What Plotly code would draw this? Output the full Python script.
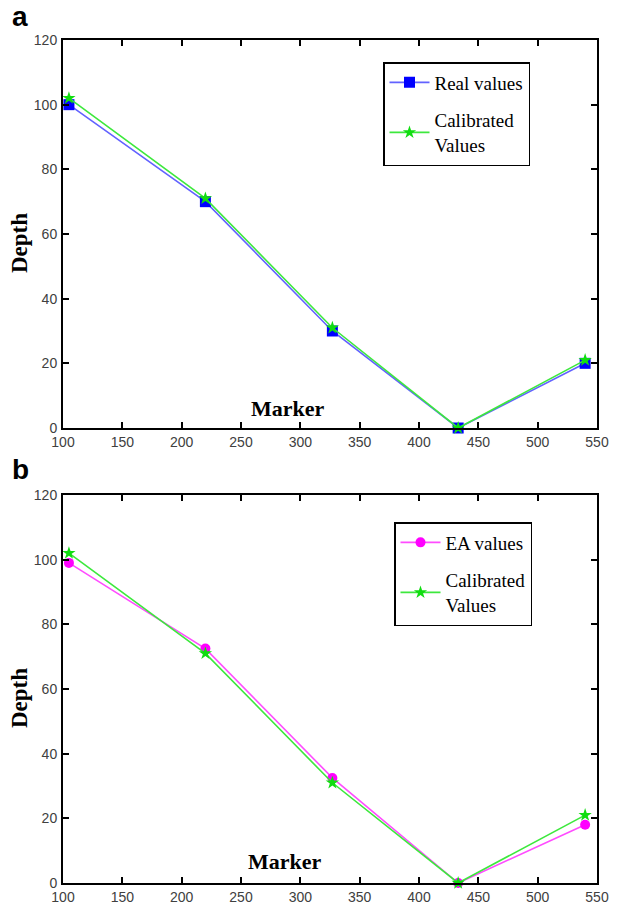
import plotly.graph_objects as go
from plotly.subplots import make_subplots

markers_x = [105, 220, 327, 433, 540]
real_values = [100, 70, 30, 0, 20]
calibrated_values = [102, 71, 31, 0, 21]
ea_values = [99, 72.5, 32.5, 0, 18]

x_ticks = [100, 150, 200, 250, 300, 350, 400, 450, 500, 550]
y_ticks = [0, 20, 40, 60, 80, 100, 120]

W, H = 618, 907
ML, MR, MT, MB = 63, 21, 40, 24
PW = W - ML - MR
PH = H - MT - MB

def py(pix):
    return (H - MB - pix) / PH

def px(pix):
    return (pix - ML) / PW

fig = make_subplots(rows=2, cols=1)

serif = "Liberation Serif"
green_line = "#3de83d"
green_marker = "#11dd11"

fig.add_trace(go.Scatter(x=markers_x, y=real_values, mode="lines+markers", name="Real values",
                         line=dict(color="#6262ff", width=1.6),
                         marker=dict(symbol="square", size=11, color="#0000ff"),
                         cliponaxis=False, legend="legend", legendgroup="a1"), row=1, col=1)
fig.add_trace(go.Scatter(x=markers_x, y=calibrated_values, mode="lines+markers", name="Calibrated<br>Values",
                         line=dict(color=green_line, width=1.6),
                         marker=dict(symbol="star", size=10, color=green_marker),
                         cliponaxis=False, legend="legend", legendgroup="a2"), row=1, col=1)
fig.add_trace(go.Scatter(x=markers_x, y=ea_values, mode="lines+markers", name="EA values",
                         line=dict(color="#ff4cff", width=1.6),
                         marker=dict(symbol="circle", size=10, color="#ff00ff"),
                         cliponaxis=False, legend="legend2", legendgroup="b1"), row=2, col=1)
fig.add_trace(go.Scatter(x=markers_x, y=calibrated_values, mode="lines+markers", name="Calibrated<br>Values",
                         line=dict(color=green_line, width=1.6),
                         marker=dict(symbol="star", size=10, color=green_marker),
                         cliponaxis=False, legend="legend2", legendgroup="b2"), row=2, col=1)

axis_common = dict(showline=True, linecolor="black", linewidth=2, mirror="ticks",
                   ticks="inside", ticklen=6, tickwidth=2, tickcolor="black",
                   showgrid=False, zeroline=False, automargin=False,
                   tickfont=dict(family="Liberation Sans", size=14, color="#404040"))

for r in (1, 2):
    fig.update_xaxes(range=[100, 550], tickvals=x_ticks, ticklabelstandoff=0, row=r, col=1, **axis_common)
    fig.update_yaxes(range=[0, 120], tickvals=y_ticks, ticklabelstandoff=1, row=r, col=1, **axis_common)

fig.update_layout(yaxis=dict(domain=[py(428), 1.0]), yaxis2=dict(domain=[0.0, py(495)]))

legend_common = dict(bgcolor="white", bordercolor="black", borderwidth=1.5,
                     font=dict(family=serif, size=19, color="black"),
                     xanchor="left", yanchor="top", tracegroupgap=10, itemwidth=40)

fig.update_layout(
    width=W, height=H,
    margin=dict(l=ML, r=MR, t=MT, b=MB),
    plot_bgcolor="white", paper_bgcolor="white",
    showlegend=True,
    legend=dict(x=px(383), y=py(62), **legend_common),
    legend2=dict(x=px(394), y=py(522), **legend_common),
)

annotations = [
    dict(text="<b>a</b>", x=px(20), y=py(17), font=dict(family="Liberation Sans", size=28, color="black")),
    dict(text="<b>b</b>", x=px(20), y=py(469), font=dict(family="Liberation Sans", size=28, color="black")),
    dict(text="<b>Marker</b>", x=px(288), y=py(408), font=dict(family=serif, size=22, color="black")),
    dict(text="<b>Marker</b>", x=px(285), y=py(861), font=dict(family=serif, size=22, color="black")),
    dict(text="<b>Depth</b>", x=px(19), y=py(243), textangle=-90, font=dict(family=serif, size=23, color="black")),
    dict(text="<b>Depth</b>", x=px(19), y=py(698), textangle=-90, font=dict(family=serif, size=23, color="black")),
]
for a in annotations:
    a.update(xref="paper", yref="paper", showarrow=False, xanchor="center", yanchor="middle")
fig.update_layout(annotations=annotations)

fig.write_html("out.html", config={"displayModeBar": False},
               post_script="document.body.style.margin='0';document.body.style.padding='0';")
